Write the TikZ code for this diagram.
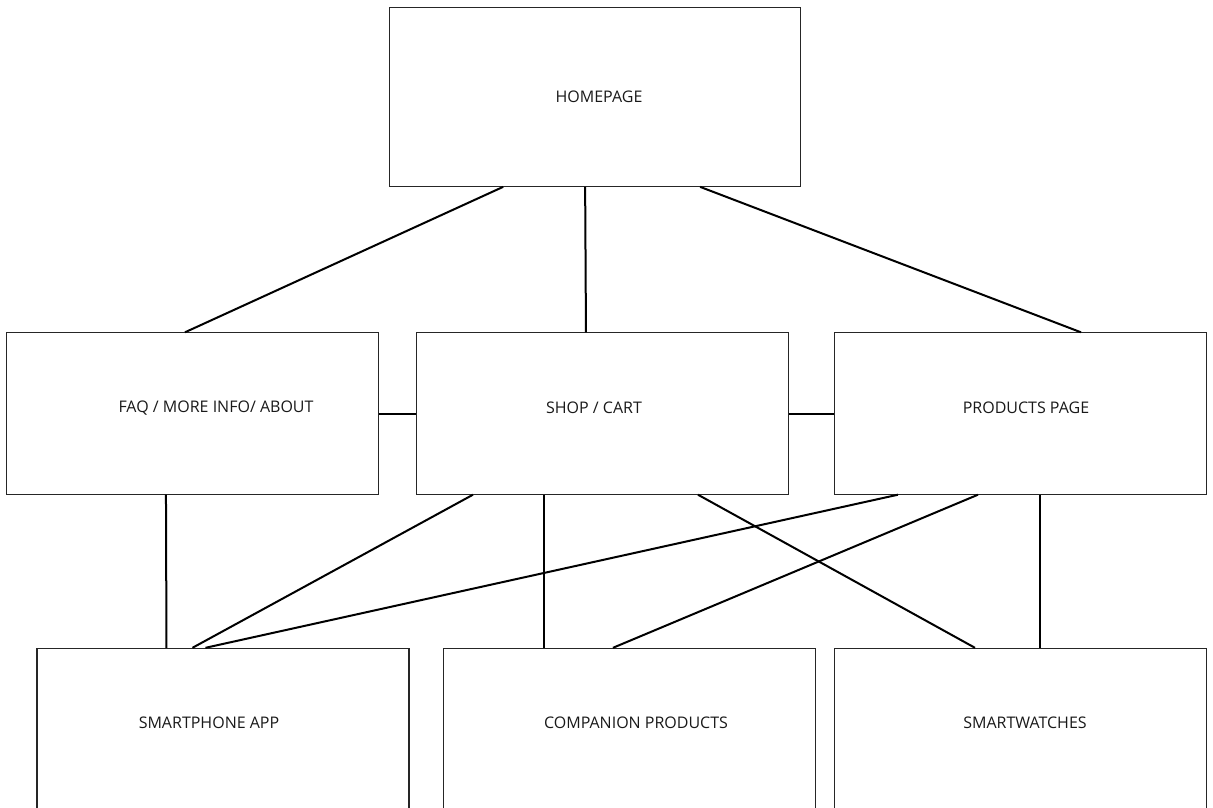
\documentclass[tikz,border=0pt]{standalone}
\usepackage{fontspec}
\setmainfont{Open Sans}
\usetikzlibrary{positioning, calc}

\begin{document}
\begin{tikzpicture} [
    x=0.75pt, y=-0.75pt,
    page/.style={rectangle, draw=black!85, line width=0.8pt, minimum width=279pt, minimum height=121pt, inner sep=0pt},
    toppage/.style={page, minimum width=308pt, minimum height=134pt},
    caption/.style={font=\fontsize{12}{14}\selectfont, text=black!90, inner sep=0pt},
    link/.style={line width=1.5pt}
]
\path[use as bounding box, clip] (0,0) rectangle (1213,807);

% LAYER 1: the page boxes
\node[toppage] (homepage) at (595,97) {};
\node[page] (faq) at (192.5,413.5) {};
\node[page] (shop) at (602.5,413.5) {};
\node[page] (products) at (1020.5,413.5) {};
\node[page] (app) at (223,729) {};
\node[page] (companion) at (629.5,729) {};
\node[page] (watches) at (1020.5,729) {};

% LAYER 2: the page names
\node[caption] (homepage_txt) at (599,97) {HOMEPAGE};
\node[caption] (faq_txt) at (216,408) {FAQ / MORE INFO/ ABOUT};
\node[caption] (shop_txt) at (594,408) {SHOP / CART};
\node[caption] (products_txt) at (1026,408) {PRODUCTS PAGE};
\node[caption] (app_txt) at (209,723) {SMARTPHONE APP};
\node[caption] (companion_txt) at (636,723) {COMPANION PRODUCTS};
\node[caption] (watches_txt) at (1025,723) {SMARTWATCHES};

% LAYER 3: links between the pages
\draw[link] ($(homepage.south west)+(114,0)$) -- ($(faq.north west)+(179,0)$);
\draw[link] ($(homepage.south west)+(196,0)$) -- ($(shop.north west)+(170,0)$);
\draw[link] ($(homepage.south west)+(311,0)$) -- ($(products.north west)+(247,0)$);

\draw[link] (faq.east) -- (shop.west);
\draw[link] (shop.east) -- (products.west);

\draw[link] ($(faq.south west)+(160,0)$) -- ($(app.north west)+(130,0)$);
\draw[link] ($(shop.south west)+(57,0)$) -- ($(app.north west)+(156,0)$);
\draw[link] ($(shop.south west)+(128,0)$) -- ($(companion.north west)+(101,0)$);
\draw[link] ($(shop.south west)+(282,0)$) -- ($(watches.north west)+(141,0)$);
\draw[link] ($(products.south west)+(64,0)$) -- ($(app.north west)+(169,0)$);
\draw[link] ($(products.south west)+(144,0)$) -- ($(companion.north west)+(170,0)$);
\draw[link] ($(products.south west)+(206,0)$) -- ($(watches.north west)+(206,0)$);

\end{tikzpicture}
\end{document}
